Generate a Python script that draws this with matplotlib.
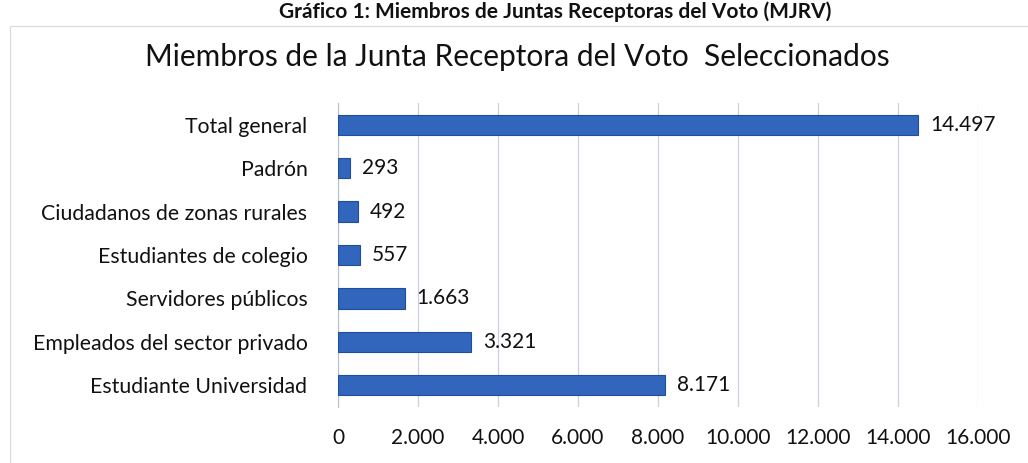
import matplotlib.pyplot as plt
from matplotlib.patches import Rectangle

plt.rcParams['font.family'] = ['Lato', 'DejaVu Sans']

categories = ['Total general', 'Padrón', 'Ciudadanos de zonas rurales',
              'Estudiantes de colegio', 'Servidores públicos',
              'Empleados del sector privado', 'Estudiante Universidad']
values = [14497, 293, 492, 557, 1663, 3321, 8171]
xticks = [0, 2000, 4000, 6000, 8000, 10000, 12000, 14000, 16000]


def fmt(v):
    return f'{v:,}'.replace(',', '.')


fig = plt.figure(figsize=(10.28, 4.63), dpi=100)
ax = fig.add_axes([338/1028, 1 - 407/463, 640/1028, 304/463])

ypos = range(len(categories))
ax.barh(ypos, values, height=0.47, color='#3266bd', edgecolor='#1f4f9c', linewidth=0.8, zorder=3)
for y, v in zip(ypos, values):
    ax.text(v + 300, y, fmt(v), va='center', ha='left', fontsize=15, color='#111111')

ax.set_xlim(0, 16000)
ax.set_ylim(len(categories) - 0.5, -0.5)
ax.set_yticks(list(ypos))
ax.set_yticklabels(categories, fontsize=15.3, color='#111111')
ax.set_xticks(xticks)
ax.set_xticklabels([fmt(t) for t in xticks], fontsize=15, color='#111111')
ax.tick_params(axis='both', length=0)
ax.tick_params(axis='y', pad=22)
ax.tick_params(axis='x', pad=15)
ax.grid(axis='x', color='#c9d0dc', linewidth=0.9, zorder=0)
for s in ['top', 'right', 'bottom']:
    ax.spines[s].set_visible(False)
ax.spines['left'].set_color('#b8bfcc')

fig.text(0.503, 1 - 57/463, 'Miembros de la Junta Receptora del Voto  Seleccionados',
         ha='center', va='center', fontsize=21.5, color='#111111')
fig.text(0.54, 1 - 1/463, 'Gráfico 1: Miembros de Juntas Receptoras del Voto (MJRV)',
         ha='center', va='top', fontsize=15, fontweight='bold', color='#111111')

# faint chart frame
fig.patches.append(Rectangle((10/1028, -0.1), 1.2, 1 - 26/463 + 0.1, transform=fig.transFigure,
                             fill=False, edgecolor='#d5d9e0', linewidth=0.8))

fig.savefig('out.png', dpi=100)
